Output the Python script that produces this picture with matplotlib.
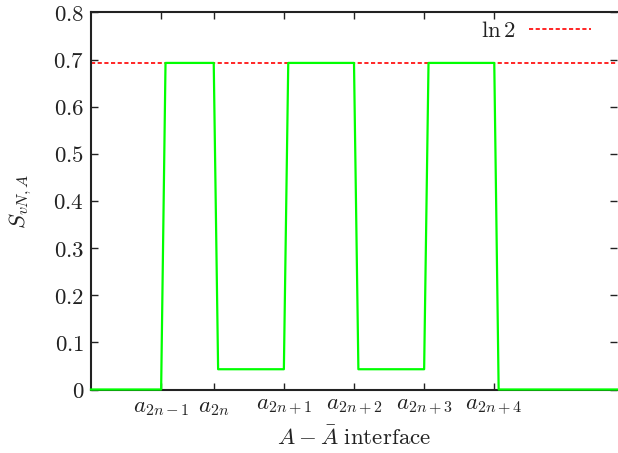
import matplotlib
matplotlib.use("Agg")
import matplotlib.pyplot as plt
from matplotlib.ticker import FuncFormatter

plt.rcParams['mathtext.fontset'] = 'cm'
plt.rcParams['font.family'] = 'serif'
plt.rcParams['font.serif'] = ['DejaVu Serif']

# entanglement entropy along the chain (site index)
sites = [0, 16, 17, 28, 29, 44, 45, 60, 61, 76, 77, 92, 93, 120]
entropy = [0, 0, 0.693, 0.693, 0.043, 0.043, 0.693, 0.693, 0.043, 0.043, 0.693, 0.693, 0, 0]

tick_sites = [16, 28, 44, 60, 76, 92]
tick_labels = [r'$a_{2n-1}$', r'$a_{2n}$', r'$a_{2n+1}$', r'$a_{2n+2}$', r'$a_{2n+3}$', r'$a_{2n+4}$']
y_ticks = [0, 0.1, 0.2, 0.3, 0.4, 0.5, 0.6, 0.7, 0.8]
ln2 = 0.6931

fs = 16.5
text_col = '#222222'

fig = plt.figure(figsize=(6.18, 4.53), dpi=100)
ax = fig.add_axes([91 / 618, 1 - 389.5 / 453, 526 / 618, 377 / 453])

ax.plot(sites, entropy, color='#00ff00', lw=1.6, zorder=3, clip_on=False)
ax.axhline(ln2, color='#ff0000', lw=1.2, ls=(0, (2.5, 1.5)), label=r'$\ln 2$', zorder=2)

ax.set_xlim(0, 120)
ax.set_ylim(0, 0.8)
ax.set_xticks(tick_sites)
ax.set_xticklabels(tick_labels, fontsize=fs, color=text_col)
ax.set_yticks(y_ticks)
ax.yaxis.set_major_formatter(FuncFormatter(lambda v, p: '$%g$' % v))
for lab in ax.get_yticklabels():
    lab.set_fontsize(fs)
    lab.set_color(text_col)

ax.tick_params(direction='in', top=True, right=True, length=5, width=1, color='#222222')
ax.tick_params(axis='x', pad=5)
ax.tick_params(axis='y', pad=5)

for s in ax.spines.values():
    s.set_color('#222222')
    s.set_linewidth(1.5)
ax.spines['right'].set_visible(False)

ax.set_xlabel(r'$A-\bar{A}\ \mathrm{interface}$', fontsize=fs, color=text_col, labelpad=6)
ax.set_ylabel(r'$S_{vN,A}$', fontsize=fs, color=text_col, labelpad=14)

leg = ax.legend(loc='upper right', bbox_to_anchor=(0.99, 1.035), frameon=False,
                markerfirst=False, fontsize=fs, handlelength=2.7, handletextpad=0.6)
for t in leg.get_texts():
    t.set_color(text_col)

fig.savefig('out.png', dpi=100)
